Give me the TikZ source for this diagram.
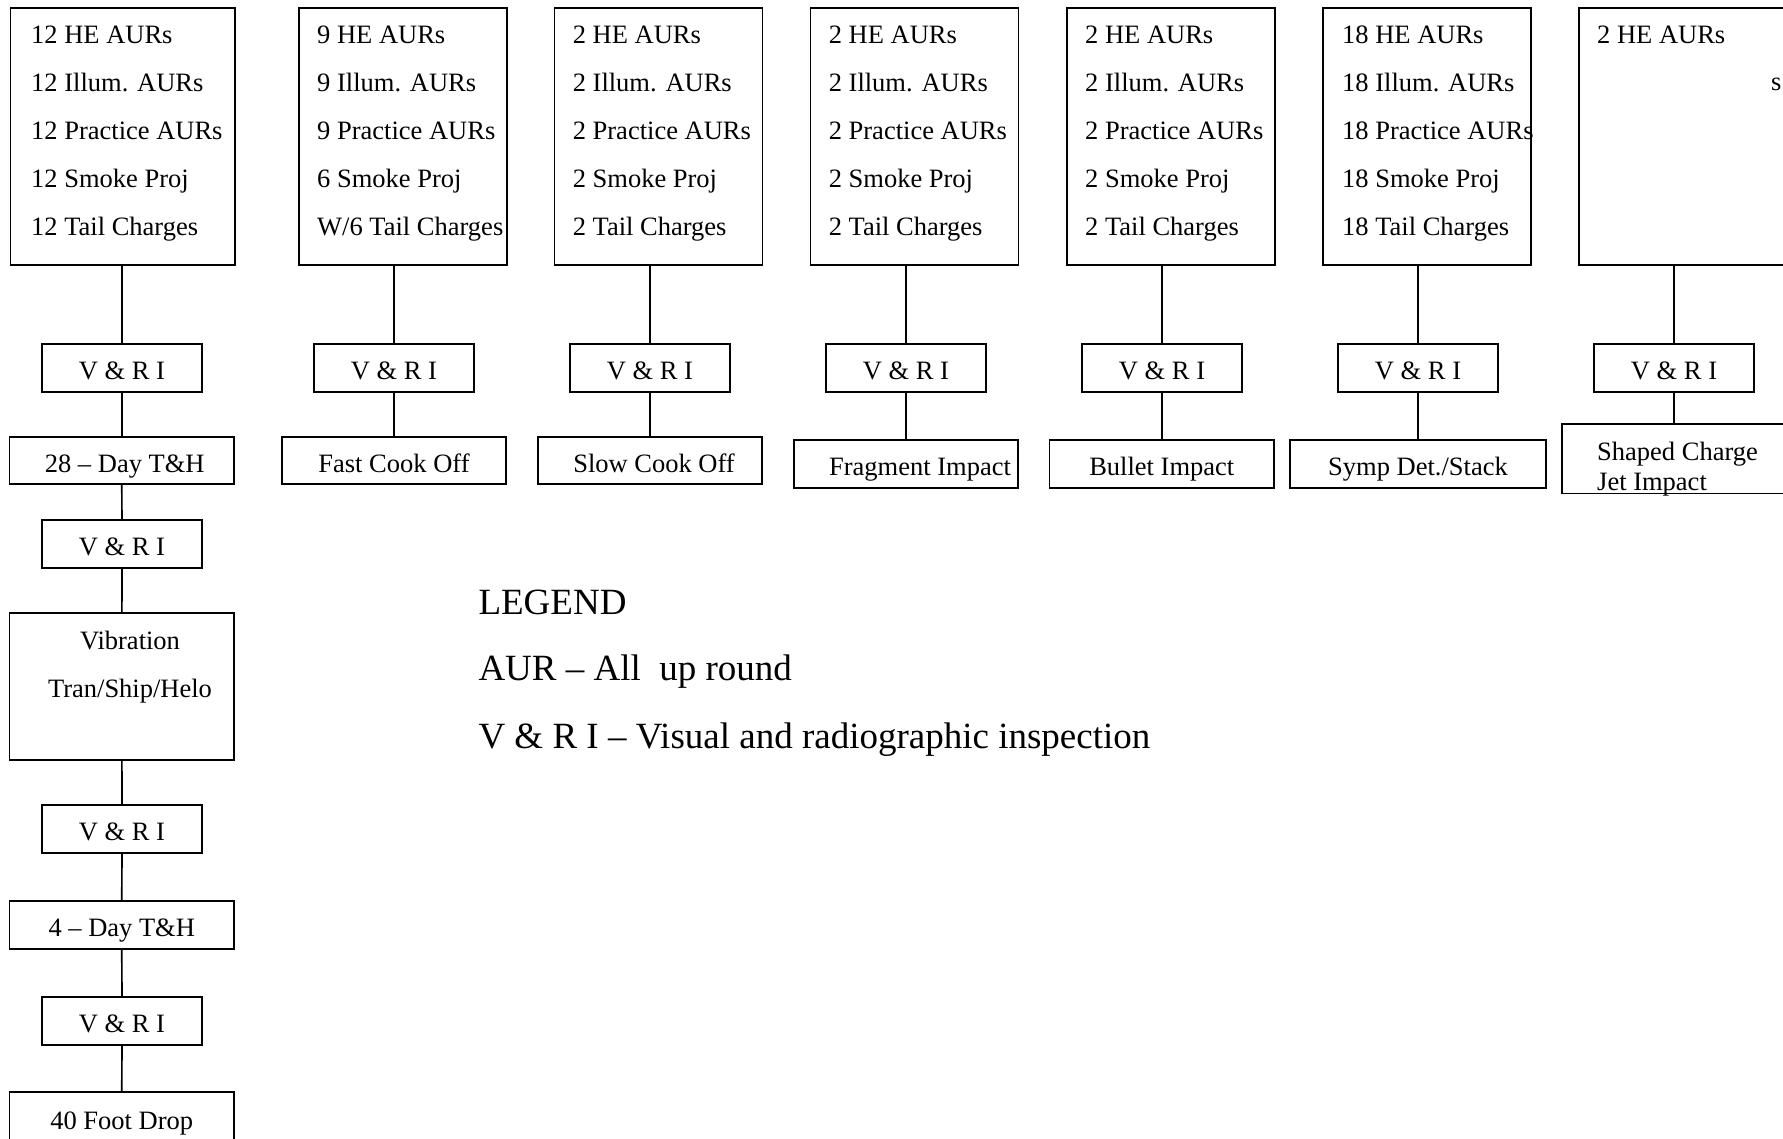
\documentclass[tikz,border=0pt]{standalone}
\usepackage{fontspec}
\setmainfont{Liberation Serif}
\usetikzlibrary{positioning}

\begin{document}
\begin{tikzpicture}[
  x=1pt, y=-1pt,
  lot/.style     = {rectangle, draw, line width=1.7pt, anchor=north west,
                    minimum width=208pt, minimum height=256.5pt, inner sep=0pt},
  lotlist/.style = {anchor=north west, align=left, inner sep=0pt,
                    font=\fontsize{26.5}{48}\selectfont},
  vri/.style     = {rectangle, draw, line width=1.7pt, minimum width=160pt,
                    minimum height=48pt, inner sep=0pt, text height=29pt,
                    text depth=6pt, font=\fontsize{26.5}{32}\selectfont},
  test/.style    = {rectangle, draw, line width=1.7pt, minimum width=224pt,
                    minimum height=47pt, inner sep=0pt, text height=29pt,
                    text depth=6pt, font=\fontsize{26.5}{32}\selectfont},
  link/.style    = {line width=1.7pt},
  legend/.style  = {anchor=base west, inner sep=0pt,
                    font=\fontsize{37}{44}\selectfont},
]
\useasboundingbox (0,0) rectangle (1783,1139);
\clip (0,0) rectangle (1783,1139);
% Row 1: test lots
\node[lot, minimum width=224.5pt] (thlot)  at (9.5,7.5)  {};
\node[lot]                        (fcolot) at (298,7.5)  {};
\node[lot]                        (scolot) at (553.6,7.5) {};
\node[lot]                        (filot)  at (809.6,7.5) {};
\node[lot]                        (bilot)  at (1066,7.5) {};
\node[lot]                        (sdlot)  at (1322,7.5) {};
\node[lot]                        (sclot)  at (1578,7.5) {};
\node[lotlist, below right=17.8pt and 21.5pt of thlot.north west] (thlist)
  {12 HE AURs\\12 Illum. AURs\\12 Practice AURs\\12 Smoke Proj\\12 Tail Charges};
\node[lotlist, below right=17.8pt and 19pt of fcolot.north west] (fcolist)
  {9 HE AURs\\9 Illum. AURs\\9 Practice AURs\\6 Smoke Proj\\W/6 Tail Charges};
\node[lotlist, below right=17.8pt and 19pt of scolot.north west] (scolist)
  {2 HE AURs\\2 Illum. AURs\\2 Practice AURs\\2 Smoke Proj\\2 Tail Charges};
\node[lotlist, below right=17.8pt and 19pt of filot.north west] (filist)
  {2 HE AURs\\2 Illum. AURs\\2 Practice AURs\\2 Smoke Proj\\2 Tail Charges};
\node[lotlist, below right=17.8pt and 19pt of bilot.north west] (bilist)
  {2 HE AURs\\2 Illum. AURs\\2 Practice AURs\\2 Smoke Proj\\2 Tail Charges};
\node[lotlist, below right=17.8pt and 20pt of sdlot.north west] (sdlist)
  {18 HE AURs\\18 Illum. AURs\\18 Practice AURs\\18 Smoke Proj\\18 Tail Charges};
\node[lotlist, below right=17.8pt and 19pt of sclot.north west] (sclist) {2 HE AURs};
\node[anchor=base west, inner sep=0pt, font=\fontsize{26.5}{32}\selectfont]
  (sccut) at (1771,90.7) {s};
% Row 2: inspections
\node[vri] (thvri)  at (122,368)  {V \& R I};
\node[vri] (fcovri) at (394,368)  {V \& R I};
\node[vri] (scovri) at (650,368)  {V \& R I};
\node[vri] (fivri)  at (906,368)  {V \& R I};
\node[vri] (bivri)  at (1162,368) {V \& R I};
\node[vri] (sdvri)  at (1418,368) {V \& R I};
\node[vri] (scvri)  at (1674,368) {V \& R I};
% Row 3: tests
\node[test, minimum width=224.5pt] (th) at (121.75,460.5) {\hspace*{6pt}28 – Day T\&H};
\node[test] (fco) at (394,460.5) {Fast Cook Off};
\node[test] (sco) at (650,460.5) {\hspace*{8pt}Slow Cook Off};
\node[test, minimum height=48pt] (fi) at (906,464) {\hspace*{28pt}Fragment Impact};
\node[test, minimum height=48pt, minimum width=224.5pt] (bi) at (1161.75,464) {Bullet Impact};
\node[test, minimum height=48pt, minimum width=256pt] (sd) at (1418,464) {Symp Det./Stack};
\node[test, minimum height=69.5pt, anchor=north west] (sc) at (1561,423) {};
\node[lotlist, font=\fontsize{26.5}{30}\selectfont,
      below right=19pt and 36pt of sc.north west] (sctxt) {Shaped Charge\\Jet Impact};
% Column 1: environmental sequence
\node[vri] (vri2) at (122,544) {V \& R I};
\node[test, minimum width=224.5pt, minimum height=147pt] (vib) at (121.75,686.5) {};
\node[lotlist, anchor=north, align=center] (vibtxt) at (130,631) {Vibration\\Tran/Ship/Helo};
\node[vri] (vri3) at (122,829) {V \& R I};
\node[test, minimum width=224.5pt, minimum height=48pt] (tfd) at (121.75,925) {4 – Day T\&H};
\node[vri] (vri4) at (122,1021) {V \& R I};
\node[test, minimum width=224.5pt, minimum height=52pt] (drop) at (121.75,1118) {40 Foot Drop};
% Connectors
\draw[link] (thvri.north  |- thlot.south)  -- (thvri.north);
\draw[link] (fcovri.north |- fcolot.south) -- (fcovri.north);
\draw[link] (scovri.north |- scolot.south) -- (scovri.north);
\draw[link] (fivri.north  |- filot.south)  -- (fivri.north);
\draw[link] (bivri.north  |- bilot.south)  -- (bivri.north);
\draw[link] (sdvri.north  |- sdlot.south)  -- (sdvri.north);
\draw[link] (scvri.north  |- sclot.south)  -- (scvri.north);
\draw[link] (thvri.south)  -- (thvri.south  |- th.north);
\draw[link] (fcovri.south) -- (fcovri.south |- fco.north);
\draw[link] (scovri.south) -- (scovri.south |- sco.north);
\draw[link] (fivri.south)  -- (fivri.south  |- fi.north);
\draw[link] (bivri.south)  -- (bivri.south  |- bi.north);
\draw[link] (sdvri.south)  -- (sdvri.south  |- sd.north);
\draw[link] (scvri.south)  -- (scvri.south  |- sc.north);
\draw[link] (th)   -- (vri2);
\draw[link] (vri2) -- (vib);
\draw[link] (vib)  -- (vri3);
\draw[link] (vri3) -- (tfd);
\draw[link] (tfd)  -- (vri4);
\draw[link] (vri4) -- (drop);
% Legend
\node[legend] (leg)    at (478.3,614.3) {LEGEND};
\node[legend] (legaur) at (478.3,680)   {AUR – All\ \ up round};
\node[legend] (legvri) at (478.3,748.3) {V \& R I – Visual and radiographic inspection};
\end{tikzpicture}
\end{document}
